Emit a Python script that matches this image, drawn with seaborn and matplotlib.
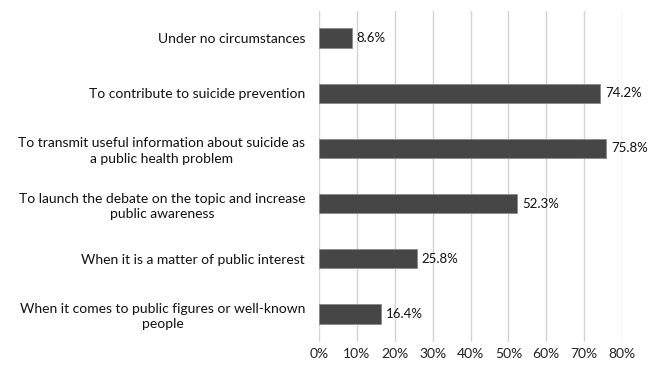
import matplotlib
matplotlib.use("Agg")
import matplotlib.pyplot as plt
import seaborn as sns
import pandas as pd
from matplotlib.ticker import PercentFormatter

categories = [
    "Under no circumstances",
    "To contribute to suicide prevention",
    "To transmit useful information about suicide as\na public health problem",
    "To launch the debate on the topic and increase\npublic awareness",
    "When it is a matter of public interest",
    "When it comes to public figures or well-known\npeople",
]
values = [8.6, 74.2, 75.8, 52.3, 25.8, 16.4]
tick_values = [0, 10, 20, 30, 40, 50, 60, 70, 80]

sns.set_theme(style="white")
plt.rcParams['font.family'] = ['Lato', 'DejaVu Sans']

df = pd.DataFrame({"cat": categories, "val": values})

fig = plt.figure(figsize=(6.49, 3.65), dpi=100)
ax = fig.add_axes([319/649, 1-341.5/365, (622-319)/649, (341.5-10.5)/365])
sns.barplot(data=df, x="val", y="cat", orient="h", color="#464646",
            width=0.35, edgecolor="#8a8a8a", linewidth=0.6, ax=ax, zorder=3)
ax.set_xlim(0, 80)
ax.set_xticks(tick_values)
ax.xaxis.set_major_formatter(PercentFormatter(decimals=0))
ax.grid(axis="x", color="#d4d4d4", linewidth=1, zorder=0)
ax.set_axisbelow(True)
for s in ax.spines.values():
    s.set_visible(False)
ax.set_xlabel("")
ax.set_ylabel("")
ax.tick_params(axis="x", length=0, pad=5, labelsize=10, labelcolor="#222222")
ax.tick_params(axis="y", length=0, pad=10, labelsize=10, labelcolor="#111111")
for lbl in ax.get_yticklabels():
    lbl.set_multialignment("center")
    lbl.set_linespacing(1.35)
for p, v in zip(ax.patches, values):
    ax.annotate(f"{v:.1f}%", (p.get_width(), p.get_y() + p.get_height()/2),
                xytext=(3.5, 0), textcoords="offset points", va="center", ha="left",
                fontsize=9.5, color="#111111")
fig.savefig("out.png", dpi=100)
